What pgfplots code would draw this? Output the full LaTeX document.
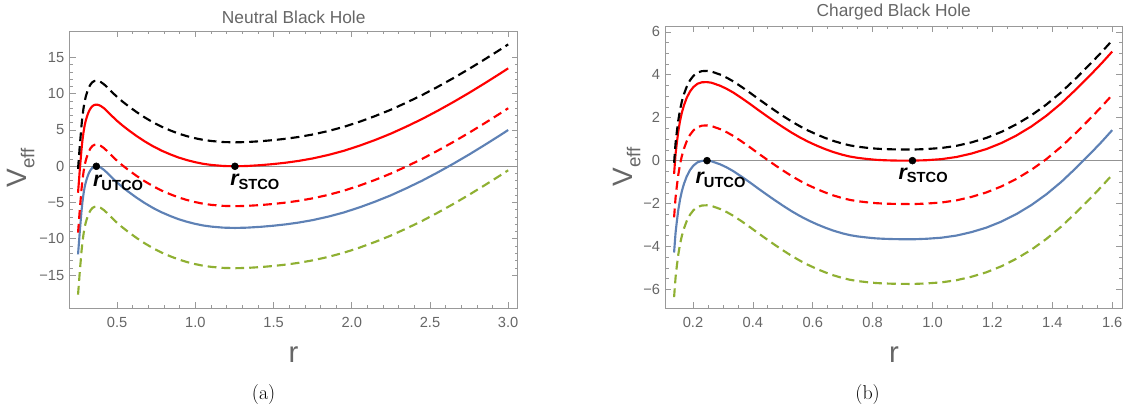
\documentclass[border=0pt]{standalone}
\usepackage{fontspec}
\usepackage{pgfplots}
\usepackage{pgfplotstable}
\pgfplotsset{compat=1.18}
\newfontfamily\sfont{Liberation Sans}
\definecolor{mblue}{rgb}{0.368417,0.506779,0.709798}
\definecolor{mgreen}{rgb}{0.560181,0.691569,0.194885}
\definecolor{framegray}{gray}{0.6}
\definecolor{labgray}{gray}{0.4}
\newcommand\rlab[1]{{\sfont\bfseries\itshape\fontsize{16}{18}\selectfont r}\raisebox{-2.8pt}{\sfont\bfseries\fontsize{11}{12}\selectfont #1}}

\pgfplotstableread{
r      black  red    rdash  blue    green
0.250  -0.35  -3.65  -9.15  -12.15  -17.70
0.253   0.50  -2.80  -8.30  -11.30  -16.85
0.2565  1.46  -1.84  -7.34  -10.34  -15.89
0.261   2.80  -0.50  -6.00   -9.00  -14.55
0.267   4.30   1.00  -4.50   -7.50  -13.05
0.272   5.60   2.30  -3.20   -6.20  -11.75
0.278   6.85   3.55  -1.95   -4.95  -10.50
0.285   8.00   4.70  -0.80   -3.80   -9.35
0.292   8.90   5.60   0.10   -2.90   -8.45
0.300   9.65   6.35   0.85   -2.15   -7.70
0.310  10.35   7.05   1.55   -1.45   -7.00
0.320  10.90   7.60   2.10   -0.90   -6.45
0.331  11.32   8.02   2.52   -0.48   -6.03
0.342  11.60   8.30   2.80   -0.20   -5.75
0.355  11.76   8.46   2.96   -0.04   -5.59
0.367  11.80   8.50   3.00    0.00   -5.55
0.380  11.76   8.46   2.96   -0.04   -5.59
0.395  11.62   8.32   2.82   -0.18   -5.73
0.416  11.30   8.00   2.50   -0.50   -6.05
0.435  10.92   7.62   2.12   -0.88   -6.43
0.452  10.55   7.25   1.75   -1.25   -6.80
0.475  10.06   6.76   1.26   -1.74   -7.29
0.500   9.55   6.25   0.75   -2.25   -7.80
0.535   8.91   5.61   0.11   -2.89   -8.44
0.572   8.29   4.99  -0.51   -3.51   -9.06
0.625   7.46   4.16  -1.34   -4.34   -9.89
0.678   6.71   3.41  -2.09   -5.09  -10.64
0.730   6.05   2.75  -2.75   -5.75  -11.30
0.785   5.45   2.15  -3.35   -6.35  -11.90
0.840   4.94   1.64  -3.86   -6.86  -12.41
0.891   4.52   1.22  -4.28   -7.28  -12.83
0.945   4.16   0.86  -4.64   -7.64  -13.19
0.998   3.87   0.57  -4.93   -7.93  -13.48
1.050   3.64   0.34  -5.16   -8.16  -13.71
1.104   3.48   0.18  -5.32   -8.32  -13.87
1.180   3.34   0.04  -5.46   -8.46  -14.01
1.253   3.30   0.00  -5.50   -8.50  -14.05
1.330   3.34   0.04  -5.46   -8.46  -14.01
1.420   3.46   0.16  -5.34   -8.34  -13.89
1.500   3.61   0.31  -5.19   -8.19  -13.74
1.580   3.80   0.50  -5.00   -8.00  -13.55
1.660   4.04   0.74  -4.76   -7.76  -13.31
1.750   4.38   1.08  -4.42   -7.42  -12.97
1.850   4.86   1.56  -3.94   -6.94  -12.49
1.950   5.44   2.14  -3.36   -6.36  -11.91
2.050   6.14   2.84  -2.66   -5.66  -11.21
2.150   6.93   3.63  -1.87   -4.87  -10.42
2.250   7.80   4.50  -1.00   -4.00   -9.55
2.350   8.78   5.48  -0.02   -3.02   -8.57
2.450   9.82   6.52   1.02   -1.98   -7.53
2.550  10.96   7.66   2.16   -0.84   -6.39
2.650  12.16   8.86   3.36    0.36   -5.19
2.750  13.42  10.12   4.62    1.62   -3.93
2.850  14.74  11.44   5.94    2.94   -2.61
2.950  16.10  12.80   7.30    4.30   -1.25
3.000  16.80  13.50   8.00    5.00   -0.55
}\leftdata

\pgfplotstableread{
r      black  red    rdash  blue    green
0.137  -0.10  -0.62  -2.64  -4.28  -6.36
0.139   0.28  -0.24  -2.26  -3.90  -5.98
0.142   0.83   0.31  -1.71  -3.35  -5.43
0.146   1.33   0.81  -1.21  -2.85  -4.93
0.151   1.88   1.36  -0.66  -2.30  -4.38
0.157   2.38   1.86  -0.16  -1.80  -3.88
0.163   2.76   2.24   0.22  -1.42  -3.50
0.170   3.10   2.58   0.56  -1.08  -3.16
0.179   3.44   2.92   0.90  -0.74  -2.82
0.190   3.74   3.22   1.20  -0.44  -2.52
0.2015  3.95   3.43   1.41  -0.23  -2.31
0.215   4.10   3.58   1.56  -0.08  -2.16
0.230   4.17   3.65   1.63  -0.01  -2.09
0.246   4.18   3.66   1.64   0.00  -2.08
0.262   4.15   3.63   1.61  -0.03  -2.11
0.2905  4.01   3.49   1.47  -0.17  -2.25
0.312   3.87   3.35   1.33  -0.31  -2.39
0.3349  3.69   3.17   1.15  -0.49  -2.57
0.362   3.44   2.92   0.90  -0.74  -2.82
0.3906  3.16   2.64   0.62  -1.02  -3.10
0.418   2.88   2.36   0.34  -1.30  -3.38
0.4462  2.60   2.08   0.06  -1.58  -3.66
0.474   2.33   1.81  -0.21  -1.85  -3.93
0.5018  2.07   1.55  -0.47  -2.11  -4.19
0.530   1.82   1.30  -0.72  -2.36  -4.44
0.5574  1.60   1.08  -0.94  -2.58  -4.66
0.585   1.40   0.88  -1.14  -2.78  -4.86
0.6131  1.22   0.70  -1.32  -2.96  -5.04
0.641   1.06   0.54  -1.48  -3.12  -5.20
0.6687  0.92   0.40  -1.62  -3.26  -5.34
0.700   0.79   0.27  -1.75  -3.39  -5.47
0.7243  0.71   0.19  -1.83  -3.47  -5.55
0.750   0.65   0.13  -1.89  -3.53  -5.61
0.780   0.60   0.08  -1.94  -3.58  -5.66
0.810   0.56   0.04  -1.98  -3.62  -5.70
0.8356  0.54   0.02  -2.00  -3.64  -5.72
0.870   0.525  0.005 -2.015 -3.655 -5.735
0.900   0.52   0.00  -2.02  -3.662 -5.742
0.933   0.515  0.00  -2.025 -3.665 -5.745
0.980   0.54   0.02  -2.00  -3.64  -5.72
1.030   0.59   0.07  -1.95  -3.59  -5.67
1.080   0.69   0.17  -1.85  -3.49  -5.57
1.130   0.85   0.33  -1.69  -3.33  -5.41
1.180   1.06   0.54  -1.48  -3.12  -5.20
1.230   1.34   0.82  -1.20  -2.84  -4.92
1.280   1.69   1.17  -0.85  -2.49  -4.57
1.330   2.11   1.59  -0.43  -2.07  -4.15
1.380   2.61   2.09   0.07  -1.57  -3.65
1.430   3.19   2.67   0.65  -0.99  -3.07
1.480   3.85   3.33   1.31  -0.33  -2.41
1.530   4.55   4.03   2.01   0.37  -1.71
1.565   5.06   4.54   2.52   0.88  -1.20
1.600   5.60   5.08   3.06   1.42  -0.66
}\rightdata

\pgfplotsset{
  mframe/.style={
    scale only axis,
    axis line style={framegray, line width=0.6pt},
    every tick/.style={framegray, line width=0.5pt},
    tick align=inside,
    major tick length=4.5pt,
    minor tick length=2.4pt,
    ticklabel style={font=\sfont\fontsize{11}{12}\selectfont, text=labgray},
    xticklabel style={yshift=-3pt},
    yticklabel style={xshift=-0.5pt},
    extra y ticks={0},
    extra y tick labels={},
    extra y tick style={grid=major, major grid style={gray!85, line width=0.7pt}, major tick length=0pt},
  },
  solidc/.style={line width=1.6pt, line join=round},
  dashc/.style={line width=1.6pt, dash pattern=on 6.6pt off 3.8pt},
}

\begin{document}
\begin{tikzpicture}[x=1pt,y=1pt]
\useasboundingbox (0,0) rectangle (844.5,306.75);

\begin{axis}[mframe,
  at={(52.2pt,75.5pt)}, anchor=south west,
  width=336.2pt, height=208pt,
  xmin=0.196, xmax=3.062, ymin=-19.58, ymax=18.65,
  xtick={0.5,1,1.5,2,2.5,3},
  xticklabels={0.5,1.0,1.5,2.0,2.5,3.0},
  ytick={-15,-10,-5,0,5,10,15},
  yticklabels={−15,−10,−5,0,5,10,15},
  minor x tick num=4, minor y tick num=4,
]
\addplot[mgreen, dashc] table[x=r, y=green] {\leftdata};
\addplot[mblue, solidc] table[x=r, y=blue] {\leftdata};
\addplot[red, dashc] table[x=r, y=rdash] {\leftdata};
\addplot[red, solidc] table[x=r, y=red] {\leftdata};
\addplot[black, dashc] table[x=r, y=black] {\leftdata};
\addplot[only marks, mark=*, mark size=2.6pt, black] coordinates {(0.367,0) (1.253,0)};
\node[anchor=base west, inner sep=0pt] at (axis cs:0.345,-2.85) {\rlab{UTCO}};
\node[anchor=base west, inner sep=0pt] at (axis cs:1.222,-2.62) {\rlab{STCO}};
\end{axis}

\begin{axis}[mframe,
  at={(499.05pt,75.5pt)}, anchor=south west,
  width=342.5pt, height=211.7pt,
  xmin=0.108, xmax=1.633, ymin=-6.88, ymax=6.27,
  xtick={0.2,0.4,0.6,0.8,1.0,1.2,1.4,1.6},
  xticklabels={0.2,0.4,0.6,0.8,1.0,1.2,1.4,1.6},
  ytick={-6,-4,-2,0,2,4,6},
  yticklabels={−6,−4,−2,0,2,4,6},
  minor x tick num=3, minor y tick num=3,
]
\addplot[mgreen, dashc] table[x=r, y=green] {\rightdata};
\addplot[mblue, solidc] table[x=r, y=blue] {\rightdata};
\addplot[red, dashc] table[x=r, y=rdash] {\rightdata};
\addplot[red, solidc] table[x=r, y=red] {\rightdata};
\addplot[black, dashc] table[x=r, y=black] {\rightdata};
\addplot[only marks, mark=*, mark size=2.6pt, black] coordinates {(0.247,0) (0.933,0)};
\node[anchor=base west, inner sep=0pt] at (axis cs:0.208,-1.08) {\rlab{UTCO}};
\node[anchor=base west, inner sep=0pt] at (axis cs:0.886,-0.86) {\rlab{STCO}};
\end{axis}

% titles
\node[text=labgray, font=\sfont\fontsize{13}{15}\selectfont] at (220.3,294) {Neutral Black Hole};
\node[text=labgray, font=\sfont\fontsize{13}{15}\selectfont] at (670.3,297.75) {Charged Black Hole};
% x labels
\node[text=labgray, font=\sfont\fontsize{22}{24}\selectfont] at (220.2,40.5) {r};
\node[text=labgray, font=\sfont\fontsize{22}{24}\selectfont] at (670.5,40.5) {r};
% y labels
\node[text=labgray, font=\sfont\fontsize{21}{23}\selectfont, rotate=90] at (15.75,180.75) {V\raisebox{-0.28em}{\fontsize{14}{15}\selectfont eff}};
\node[text=labgray, font=\sfont\fontsize{21}{23}\selectfont, rotate=90] at (470.1,181.5) {V\raisebox{-0.28em}{\fontsize{14}{15}\selectfont eff}};
% captions
\node[font=\fontsize{15}{17}\selectfont] at (197.7,10.5) {(a)};
\node[font=\fontsize{15}{17}\selectfont] at (650.7,10.5) {(b)};
\end{tikzpicture}
\end{document}
